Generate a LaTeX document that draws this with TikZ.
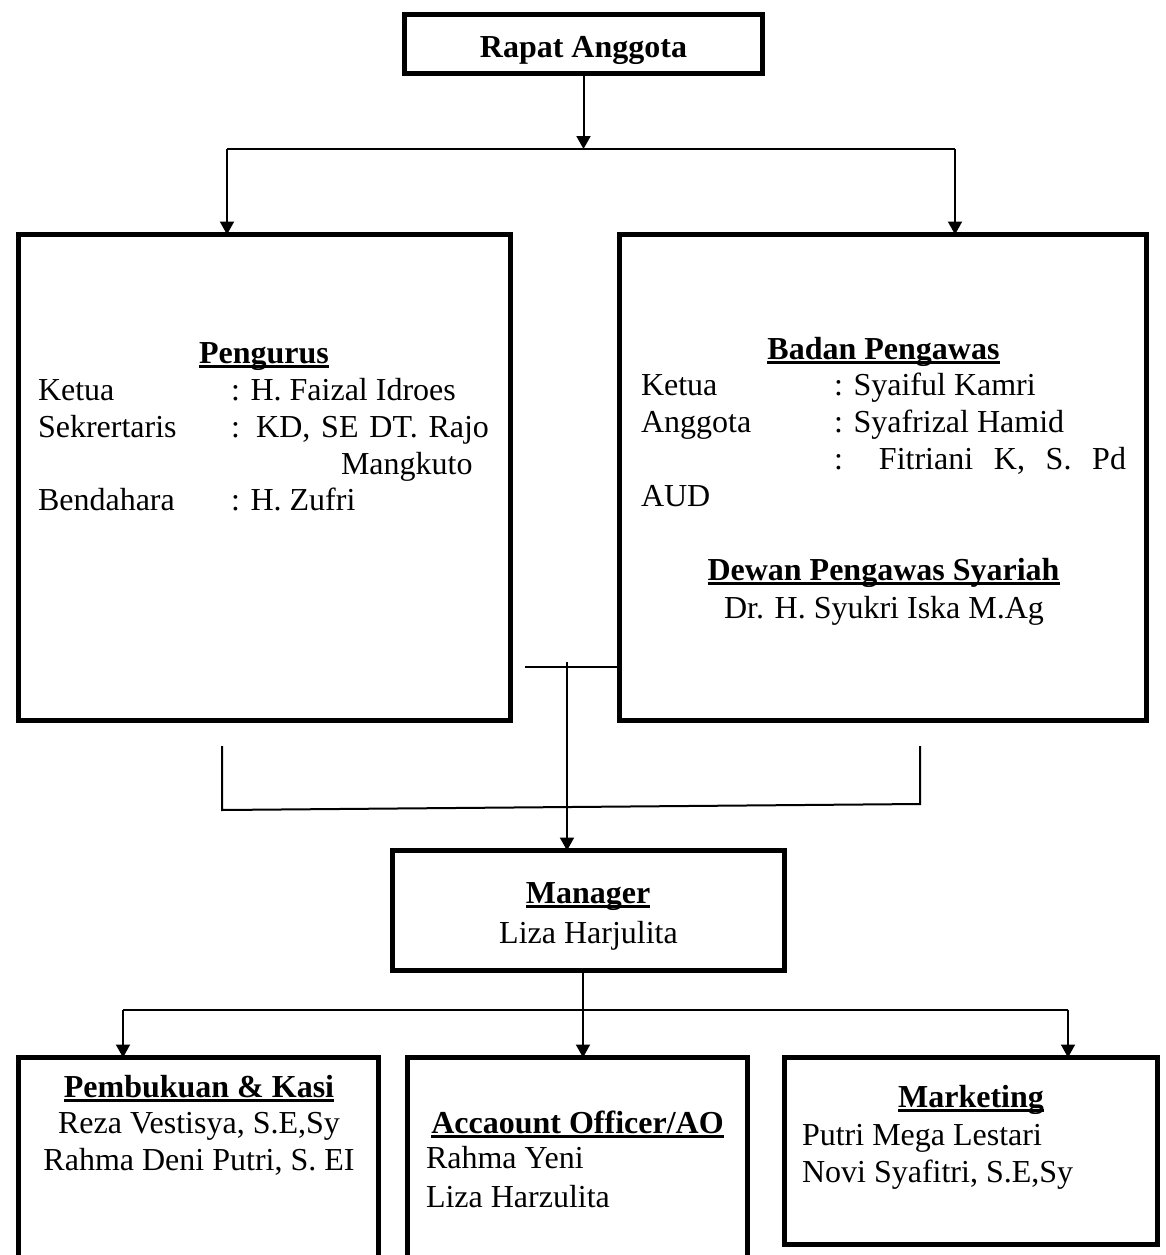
\documentclass[tikz,border=0pt]{standalone}
\usepackage{fontspec}
\setmainfont{Liberation Serif}
\usetikzlibrary{arrows.meta}
\newcommand\myul[1]{\setbox0\hbox{#1}\rlap{\rule[-4.5pt]{\wd0}{2.5pt}}\box0}
\begin{document}
\begin{tikzpicture}[x=1pt,y=-1pt,
  box/.style={draw, line width=5pt, inner sep=0pt, outer sep=0pt},
  conn/.style={line width=2pt},
  arr/.style={conn, -{Triangle[length=13pt,width=14pt]}},
  txt/.style={inner sep=0pt, outer sep=0pt, font=\fontsize{32}{37}\selectfont},
  tl/.style={txt, anchor=base west},
  tc/.style={txt, anchor=base}]
\useasboundingbox (0,0) rectangle (1165,1255);
\clip (0,0) rectangle (1165,1255);

% boxes
\node[box, minimum width=358pt, minimum height=59pt] (rapat) at (583.5,44) {};
\node[box, minimum width=492pt, minimum height=486pt] (peng) at (264.5,477.5) {};
\node[box, minimum width=527pt, minimum height=486pt] (badan) at (883,477.5) {};
\node[box, minimum width=392pt, minimum height=120pt] (manager) at (588.5,910.5) {};
\node[box, minimum width=360pt, minimum height=240pt] (pemb) at (198.5,1177.5) {};
\node[box, minimum width=340pt, minimum height=240pt] (acc) at (577.5,1177.5) {};
\node[box, minimum width=373pt, minimum height=187pt] (mkt) at (971,1151) {};

% texts
\node[tc] (tRapat) at (583.5,57) {\textbf{Rapat Anggota}};

\node[tc] (tPeng) at (264,363) {\myul{\textbf{Pengurus}}};
\node[tl] (pk1) at (38,400) {Ketua};
\node[tl] (pk2) at (231,400) {: H. Faizal Idroes};
\node[tl] (ps1) at (38,437) {Sekrertaris};
\node[tl] (ps2) at (231,437) {\makebox[258pt][s]{: KD, SE DT. Rajo}};
\node[tl] (ps3) at (341,474) {Mangkuto};
\node[tl] (pb1) at (38,510) {Bendahara};
\node[tl] (pb2) at (231,510) {: H. Zufri};

\node[tc] (tBadan) at (883.5,359) {\myul{\textbf{Badan Pengawas}}};
\node[tl] (bk1) at (641,395) {Ketua};
\node[tl] (bk2) at (834,395) {: Syaiful Kamri};
\node[tl] (ba1) at (641,432) {Anggota};
\node[tl] (ba2) at (834,432) {: Syafrizal Hamid};
\node[tl] (ba3) at (834,469) {\makebox[292pt][s]{: Fitriani K, S. Pd}};
\node[tl] (ba4) at (641,506) {AUD};
\node[tc] (tDewan) at (883.5,580) {\myul{\textbf{Dewan Pengawas Syariah}}};
\node[tc] (dw1) at (884,618) {Dr. H. Syukri Iska M.Ag};

\node[tc] (tMan) at (588,903) {\myul{\textbf{Manager}}};
\node[tc] (mn1) at (588.5,943) {Liza Harjulita};

\node[tc] (tPemb) at (199,1097) {\myul{\textbf{Pembukuan \& Kasi}}};
\node[tc] (pm1) at (199,1133) {Reza Vestisya, S.E,Sy};
\node[tc] (pm2) at (199,1170) {Rahma Deni Putri, S. EI};

\node[tc] (tAcc) at (577.5,1133) {\myul{\textbf{Accaount Officer/AO}}};
\node[tl] (ac1) at (426,1168) {Rahma Yeni};
\node[tl] (ac2) at (426,1207) {Liza Harzulita};

\node[tc] (tMkt) at (971,1107) {\myul{\textbf{Marketing}}};
\node[tl] (mk1) at (802,1145) {Putri Mega Lestari};
\node[tl] (mk2) at (802,1182) {Novi Syafitri, S.E,Sy};

% connectors top
\coordinate (t1) at (227,149);
\coordinate (t2) at (955,149);
\draw[arr] (rapat.south) -- (rapat.south |- t1);
\draw[conn] (t1) -- (t2);
\draw[arr] (t1) -- (t1 |- peng.north);
\draw[arr] (t2) -- (t2 |- badan.north);

% connectors middle
\coordinate (m1) at (525,667);
\draw[conn] (m1) -- (m1 -| badan.west);
\coordinate (m2) at (567,662);
\draw[arr] (m2) -- (m2 |- manager.north);
\coordinate (b1) at (222,746);
\coordinate (b1b) at (222,810);
\coordinate (b2b) at (920,804);
\coordinate (b2) at (920,746);
\draw[conn] (b1) -- (b1b) -- (b2b) -- (b2);

% connectors bottom
\coordinate (ms) at ([xshift=-5.5pt]manager.south);
\draw[arr] (ms) -- (ms |- acc.north);
\coordinate (d1) at (123,1010);
\coordinate (d2) at (1068,1010);
\draw[conn] (d1) -- (d2);
\draw[arr] (d1) -- (d1 |- pemb.north);
\draw[arr] (d2) -- (d2 |- mkt.north);
\end{tikzpicture}
\end{document}
